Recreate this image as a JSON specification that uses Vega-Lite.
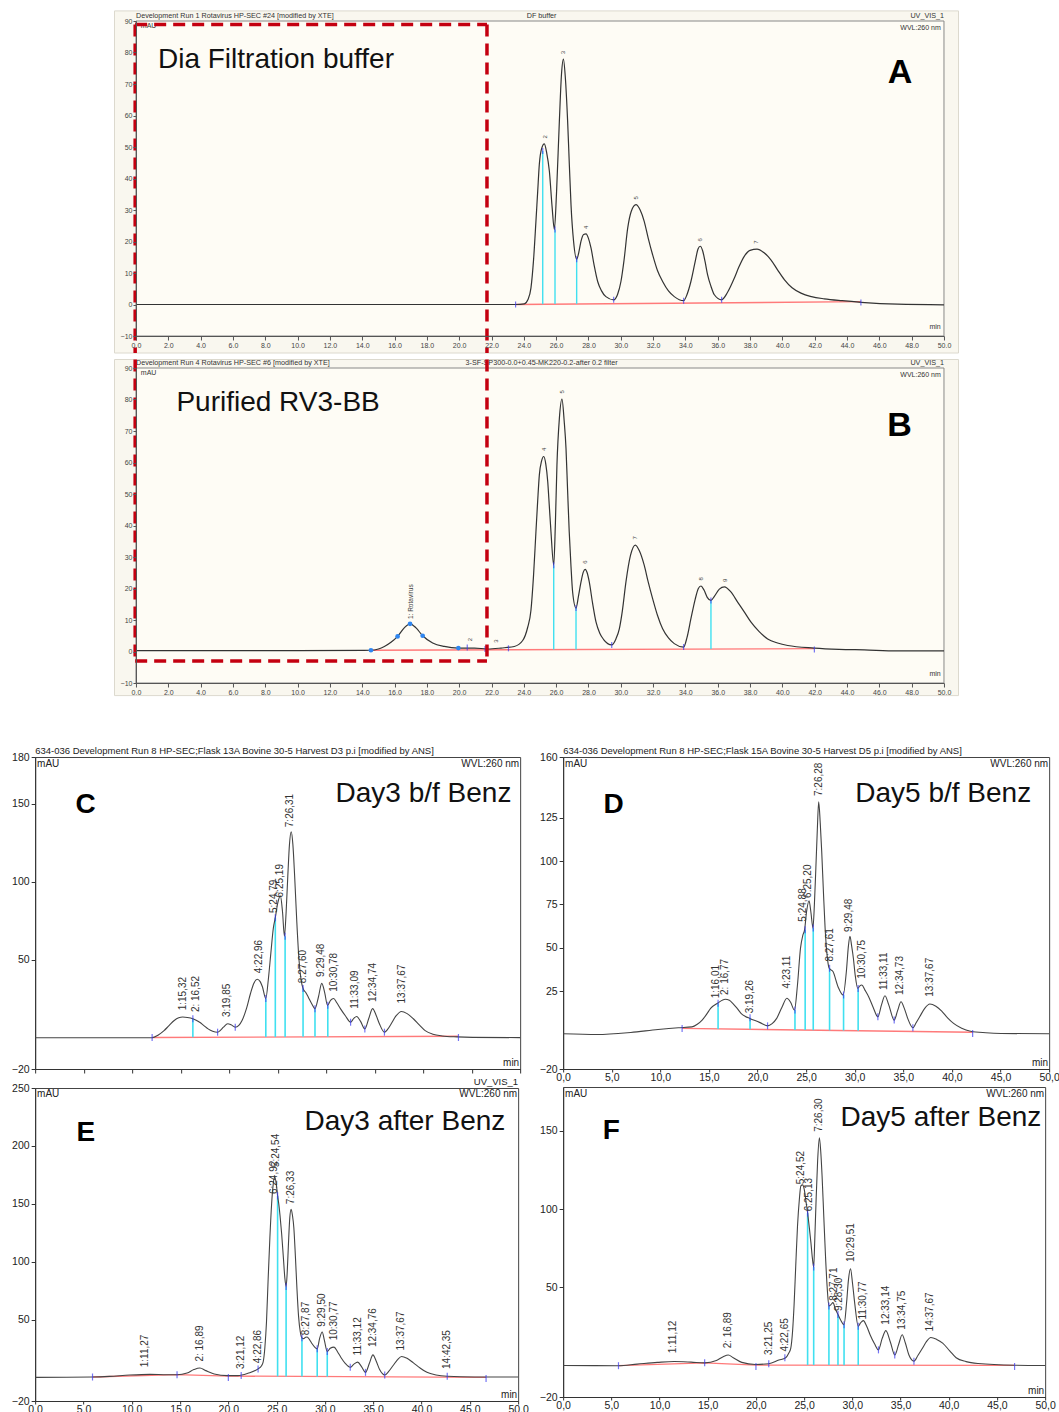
{
"$schema": "https://vega.github.io/schema/vega-lite/v6.json",
"background": "white",
"padding": {"left": 10, "top": 10, "right": 0, "bottom": 0},
"config": {"font": "Liberation Sans", "view": {"stroke": "#444"}, "axis": {"grid": false, "labelFont": "Liberation Sans"}},
"datasets": {
"trA": [{"t":0,"v":0},{"t":5,"v":0},{"t":10,"v":0},{"t":15,"v":0},{"t":20,"v":0},{"t":23.5,"v":0},{"t":24.03,"v":0.2},{"t":24.25,"v":1.5},{"t":24.44,"v":5.2},{"t":24.6,"v":14},{"t":24.75,"v":26.4},{"t":24.86,"v":36},{"t":24.96,"v":44.5},{"t":25.1,"v":49.5},{"t":25.27,"v":51},{"t":25.42,"v":48},{"t":25.58,"v":42.4},{"t":25.75,"v":31},{"t":25.89,"v":23.8},{"t":26.02,"v":35},{"t":26.2,"v":58.3},{"t":26.33,"v":73},{"t":26.45,"v":77.9},{"t":26.57,"v":72},{"t":26.71,"v":58.3},{"t":26.82,"v":44},{"t":26.92,"v":31.7},{"t":27.08,"v":20},{"t":27.27,"v":14.4},{"t":27.4,"v":16.5},{"t":27.54,"v":20.1},{"t":27.7,"v":22.2},{"t":27.85,"v":22.4},{"t":28.0,"v":21},{"t":28.16,"v":17.9},{"t":28.35,"v":12.5},{"t":28.57,"v":7.3},{"t":28.8,"v":4.4},{"t":29.08,"v":2.5},{"t":29.56,"v":1.5},{"t":29.8,"v":3.2},{"t":30.01,"v":7.3},{"t":30.2,"v":14},{"t":30.43,"v":24.3},{"t":30.65,"v":29.6},{"t":30.94,"v":31.7},{"t":31.2,"v":30},{"t":31.45,"v":26.4},{"t":31.7,"v":21},{"t":31.97,"v":15.8},{"t":32.27,"v":10.8},{"t":32.59,"v":7.3},{"t":32.95,"v":4.3},{"t":33.31,"v":2.5},{"t":33.89,"v":1.2},{"t":34.1,"v":3.2},{"t":34.34,"v":7.3},{"t":34.6,"v":13.5},{"t":34.78,"v":17.6},{"t":34.92,"v":18.5},{"t":35.07,"v":17},{"t":35.22,"v":13.5},{"t":35.37,"v":9.5},{"t":35.58,"v":5.8},{"t":35.79,"v":3.1},{"t":36.24,"v":1.5},{"t":36.6,"v":3.8},{"t":37.03,"v":8.4},{"t":37.3,"v":11.8},{"t":37.64,"v":15.3},{"t":38.0,"v":17.2},{"t":38.43,"v":17.6},{"t":38.85,"v":16.5},{"t":39.29,"v":14.2},{"t":39.7,"v":11},{"t":40.12,"v":7.9},{"t":40.6,"v":5.3},{"t":41.15,"v":3.6},{"t":41.8,"v":2.5},{"t":42.59,"v":1.8},{"t":43.7,"v":1.2},{"t":44.87,"v":0.7},{"t":47.13,"v":0.1},{"t":50,"v":-0.1}],
"trB": [{"t":0,"v":0.3},{"t":5,"v":0.3},{"t":10,"v":0.3},{"t":14.54,"v":0.4},{"t":15.0,"v":0.8},{"t":15.37,"v":1.6},{"t":15.8,"v":3.0},{"t":16.19,"v":4.8},{"t":16.6,"v":7.5},{"t":16.96,"v":8.8},{"t":17.33,"v":7.5},{"t":17.74,"v":5.0},{"t":18.36,"v":2.7},{"t":19.08,"v":1.6},{"t":19.95,"v":1.1},{"t":20.94,"v":1.1},{"t":21.76,"v":0.8},{"t":22.59,"v":1.1},{"t":23.41,"v":1.6},{"t":23.93,"v":3.5},{"t":24.24,"v":7.7},{"t":24.44,"v":13},{"t":24.6,"v":24},{"t":24.75,"v":38},{"t":24.86,"v":48},{"t":24.96,"v":56},{"t":25.1,"v":60.5},{"t":25.23,"v":61.9},{"t":25.36,"v":59.5},{"t":25.48,"v":53.9},{"t":25.58,"v":46},{"t":25.68,"v":38},{"t":25.85,"v":27.4},{"t":25.95,"v":40},{"t":26.05,"v":59.2},{"t":26.2,"v":74},{"t":26.36,"v":80.1},{"t":26.5,"v":73},{"t":26.61,"v":64.5},{"t":26.71,"v":51},{"t":26.81,"v":38},{"t":26.92,"v":27},{"t":27.02,"v":18.9},{"t":27.23,"v":13.8},{"t":27.38,"v":17.5},{"t":27.54,"v":22.1},{"t":27.68,"v":25.2},{"t":27.8,"v":26.1},{"t":27.92,"v":25},{"t":28.05,"v":22.1},{"t":28.25,"v":15.5},{"t":28.47,"v":9.3},{"t":28.7,"v":5.8},{"t":28.94,"v":3.8},{"t":29.44,"v":2.1},{"t":29.7,"v":4},{"t":29.91,"v":7.2},{"t":30.1,"v":13},{"t":30.32,"v":22.1},{"t":30.6,"v":30.5},{"t":30.9,"v":33.8},{"t":31.15,"v":32},{"t":31.45,"v":27.4},{"t":31.7,"v":22},{"t":31.97,"v":16.8},{"t":32.27,"v":11.5},{"t":32.59,"v":7.2},{"t":32.95,"v":4.3},{"t":33.31,"v":2.5},{"t":33.89,"v":1.4},{"t":34.1,"v":4.5},{"t":34.34,"v":10.4},{"t":34.6,"v":16.5},{"t":34.8,"v":20},{"t":34.96,"v":20.8},{"t":35.15,"v":19.5},{"t":35.35,"v":17.2},{"t":35.58,"v":16.2},{"t":35.8,"v":17.6},{"t":36.1,"v":19.8},{"t":36.41,"v":20.5},{"t":36.8,"v":19},{"t":37.23,"v":15.7},{"t":37.65,"v":12.5},{"t":38.06,"v":9.3},{"t":38.55,"v":6.4},{"t":39.09,"v":4.0},{"t":39.7,"v":2.7},{"t":40.33,"v":1.9},{"t":41.98,"v":1.1},{"t":43.5,"v":0.7},{"t":45.07,"v":0.5},{"t":47.13,"v":0.2},{"t":50,"v":0.2}],
"trC": [{"t":0,"v":0},{"t":5,"v":0},{"t":10,"v":0},{"t":12.06,"v":0},{"t":12.7,"v":1.8},{"t":13.29,"v":4.6},{"t":13.8,"v":7.8},{"t":14.34,"v":11.1},{"t":14.8,"v":12.8},{"t":15.21,"v":13.3},{"t":15.7,"v":13.0},{"t":16.26,"v":12.2},{"t":16.6,"v":11.3},{"t":16.96,"v":10.0},{"t":17.4,"v":7.8},{"t":17.83,"v":5.7},{"t":18.3,"v":4.2},{"t":18.81,"v":3.6},{"t":19.1,"v":4.8},{"t":19.41,"v":6.8},{"t":19.86,"v":9.0},{"t":20.2,"v":8.3},{"t":20.63,"v":6.8},{"t":21.0,"v":8.0},{"t":21.33,"v":11.1},{"t":21.8,"v":19},{"t":22.2,"v":28.4},{"t":22.55,"v":35},{"t":22.9,"v":37.5},{"t":23.2,"v":36},{"t":23.43,"v":32.7},{"t":23.78,"v":25.2},{"t":24.05,"v":38},{"t":24.3,"v":54.3},{"t":24.55,"v":70},{"t":24.76,"v":77},{"t":25.0,"v":86},{"t":25.28,"v":91},{"t":25.5,"v":81},{"t":25.7,"v":65.1},{"t":25.87,"v":80},{"t":26.05,"v":104},{"t":26.22,"v":124},{"t":26.4,"v":132.1},{"t":26.57,"v":124},{"t":26.75,"v":104},{"t":26.97,"v":75},{"t":27.2,"v":50},{"t":27.42,"v":37},{"t":27.62,"v":31.6},{"t":27.9,"v":29},{"t":28.15,"v":26.2},{"t":28.5,"v":22},{"t":28.85,"v":18.7},{"t":29.2,"v":26},{"t":29.55,"v":34.9},{"t":29.85,"v":29},{"t":30.14,"v":20.8},{"t":30.45,"v":24},{"t":30.77,"v":25.2},{"t":31.1,"v":22.5},{"t":31.47,"v":18.7},{"t":32.0,"v":14},{"t":32.52,"v":10.0},{"t":32.85,"v":12.5},{"t":33.15,"v":13.7},{"t":33.55,"v":10.5},{"t":33.99,"v":5.7},{"t":34.4,"v":12.5},{"t":34.79,"v":18.7},{"t":35.15,"v":14.5},{"t":35.49,"v":9.0},{"t":36.01,"v":3.6},{"t":36.35,"v":5.5},{"t":36.71,"v":9.0},{"t":37.2,"v":14},{"t":37.76,"v":16.9},{"t":38.35,"v":15.5},{"t":38.99,"v":12.2},{"t":39.6,"v":8.3},{"t":40.21,"v":4.6},{"t":41.0,"v":2.3},{"t":41.96,"v":1.2},{"t":43.5,"v":0.6},{"t":45.1,"v":0.3},{"t":50,"v":0.1}],
"trD": [{"t":0,"v":0.3},{"t":3.5,"v":-0.1},{"t":6.96,"v":1.1},{"t":9.76,"v":2.8},{"t":11.85,"v":3.8},{"t":13.25,"v":4.3},{"t":13.8,"v":5.8},{"t":14.3,"v":8.2},{"t":14.75,"v":11.5},{"t":15.17,"v":15.0},{"t":15.87,"v":17.9},{"t":16.68,"v":20.2},{"t":17.1,"v":19.6},{"t":17.45,"v":17.9},{"t":17.9,"v":15},{"t":18.3,"v":12.1},{"t":18.75,"v":10.3},{"t":19.2,"v":9.2},{"t":20.2,"v":6.9},{"t":21.03,"v":4.9},{"t":21.5,"v":6.2},{"t":21.97,"v":9.2},{"t":22.5,"v":15.5},{"t":23.02,"v":20.8},{"t":23.4,"v":18.5},{"t":23.8,"v":14.0},{"t":24.1,"v":28},{"t":24.42,"v":49.7},{"t":24.65,"v":57},{"t":24.84,"v":60.3},{"t":25.05,"v":71},{"t":25.3,"v":77.1},{"t":25.5,"v":70},{"t":25.7,"v":61.3},{"t":25.85,"v":75},{"t":26.0,"v":96},{"t":26.15,"v":118},{"t":26.29,"v":134.1},{"t":26.45,"v":122},{"t":26.6,"v":105.7},{"t":26.78,"v":82},{"t":26.95,"v":61.3},{"t":27.15,"v":46},{"t":27.37,"v":38.1},{"t":27.76,"v":36.2},{"t":28.28,"v":27.5},{"t":28.81,"v":22.7},{"t":29.15,"v":37},{"t":29.35,"v":51},{"t":29.51,"v":56.5},{"t":29.68,"v":51},{"t":29.86,"v":43.9},{"t":30.05,"v":34},{"t":30.31,"v":26.5},{"t":30.5,"v":27.8},{"t":30.73,"v":28.5},{"t":31.05,"v":25.5},{"t":31.43,"v":21.7},{"t":31.9,"v":15.5},{"t":32.38,"v":10.1},{"t":32.75,"v":17},{"t":33.11,"v":22.3},{"t":33.5,"v":17},{"t":34.06,"v":8.2},{"t":34.4,"v":13.5},{"t":34.76,"v":18.8},{"t":35.1,"v":15},{"t":35.45,"v":9.2},{"t":35.98,"v":3.8},{"t":36.3,"v":6.5},{"t":36.68,"v":10.1},{"t":37.2,"v":15},{"t":37.73,"v":17.5},{"t":38.35,"v":16.2},{"t":38.95,"v":13.4},{"t":39.55,"v":9.5},{"t":40.17,"v":6.3},{"t":41.0,"v":3.5},{"t":41.92,"v":1.8},{"t":43.5,"v":0.9},{"t":45.07,"v":0.5},{"t":50,"v":0.3}],
"trE": [{"t":0,"v":0.4},{"t":5.94,"v":0.7},{"t":7.69,"v":1.2},{"t":9.79,"v":2.4},{"t":11.89,"v":3.0},{"t":13.64,"v":2.7},{"t":14.69,"v":2.7},{"t":15.73,"v":4.1},{"t":16.43,"v":7.1},{"t":17.06,"v":8.5},{"t":17.66,"v":6.2},{"t":18.53,"v":3.3},{"t":19.93,"v":1.9},{"t":20.98,"v":1.9},{"t":22.03,"v":3.9},{"t":23.08,"v":7.7},{"t":23.4,"v":10},{"t":23.6,"v":13.5},{"t":23.78,"v":26},{"t":23.95,"v":48.3},{"t":24.12,"v":85},{"t":24.3,"v":120.9},{"t":24.48,"v":150},{"t":24.65,"v":167.3},{"t":24.8,"v":173.5},{"t":24.95,"v":168},{"t":25.1,"v":157},{"t":25.22,"v":150},{"t":25.35,"v":140},{"t":25.52,"v":124},{"t":25.7,"v":103.4},{"t":25.85,"v":86},{"t":25.98,"v":78.7},{"t":26.1,"v":92},{"t":26.22,"v":115},{"t":26.36,"v":138},{"t":26.5,"v":145.4},{"t":26.64,"v":140},{"t":26.78,"v":129.5},{"t":26.94,"v":105},{"t":27.1,"v":77.3},{"t":27.27,"v":53},{"t":27.45,"v":39.5},{"t":27.62,"v":34.5},{"t":27.8,"v":33.8},{"t":28.0,"v":35},{"t":28.15,"v":35.2},{"t":28.4,"v":33},{"t":28.67,"v":29.4},{"t":29.2,"v":25.0},{"t":29.45,"v":34},{"t":29.72,"v":39.5},{"t":29.95,"v":32},{"t":30.24,"v":22.7},{"t":30.55,"v":25.5},{"t":30.94,"v":26.5},{"t":31.3,"v":22.5},{"t":31.64,"v":17.8},{"t":32.1,"v":12.5},{"t":32.62,"v":9.1},{"t":33.0,"v":11.8},{"t":33.39,"v":13.5},{"t":33.8,"v":9.5},{"t":34.2,"v":4.7},{"t":34.6,"v":12.5},{"t":34.97,"v":19.8},{"t":35.3,"v":14.5},{"t":35.66,"v":7.1},{"t":36.19,"v":2.4},{"t":36.6,"v":5.5},{"t":37.06,"v":10.6},{"t":37.5,"v":15.5},{"t":37.94,"v":18.4},{"t":38.5,"v":16.8},{"t":39.16,"v":12.9},{"t":39.85,"v":8.5},{"t":40.56,"v":4.7},{"t":41.5,"v":2.4},{"t":42.66,"v":1.3},{"t":45.45,"v":0.7},{"t":50,"v":0.7}],
"trF": [{"t":0,"v":0.1},{"t":5.74,"v":0},{"t":7.67,"v":1.0},{"t":9.77,"v":2.1},{"t":11.52,"v":2.7},{"t":13.27,"v":2.3},{"t":14.68,"v":1.8},{"t":15.9,"v":3.3},{"t":16.6,"v":5.7},{"t":17.13,"v":6.8},{"t":17.65,"v":5.1},{"t":18.53,"v":2.1},{"t":19.93,"v":0.8},{"t":21.33,"v":1.2},{"t":22.38,"v":3.6},{"t":23.08,"v":5.1},{"t":23.4,"v":8},{"t":23.61,"v":11.1},{"t":23.8,"v":22},{"t":23.96,"v":39.2},{"t":24.13,"v":64},{"t":24.31,"v":88.9},{"t":24.5,"v":106},{"t":24.66,"v":114.8},{"t":24.84,"v":115.5},{"t":25.01,"v":112.6},{"t":25.19,"v":105},{"t":25.36,"v":97.5},{"t":25.54,"v":88},{"t":25.71,"v":78.1},{"t":25.85,"v":69},{"t":25.99,"v":63.0},{"t":26.1,"v":80},{"t":26.23,"v":104},{"t":26.4,"v":131},{"t":26.58,"v":145.5},{"t":26.72,"v":137},{"t":26.86,"v":121.3},{"t":27.04,"v":95},{"t":27.22,"v":69.4},{"t":27.4,"v":49},{"t":27.57,"v":38.1},{"t":27.78,"v":39},{"t":27.99,"v":40.3},{"t":28.25,"v":36},{"t":28.51,"v":32.7},{"t":28.8,"v":29},{"t":29.14,"v":26.2},{"t":29.4,"v":40},{"t":29.6,"v":55},{"t":29.81,"v":61.9},{"t":30.03,"v":52},{"t":30.26,"v":39.2},{"t":30.61,"v":25.2},{"t":30.85,"v":27.3},{"t":31.14,"v":28.8},{"t":31.5,"v":25},{"t":31.84,"v":19.8},{"t":32.3,"v":14},{"t":32.71,"v":10.1},{"t":33.1,"v":17.5},{"t":33.48,"v":22.4},{"t":33.95,"v":15},{"t":34.4,"v":6.8},{"t":34.8,"v":13.5},{"t":35.17,"v":19.8},{"t":35.5,"v":14.5},{"t":35.87,"v":6.8},{"t":36.39,"v":2.9},{"t":36.8,"v":6.5},{"t":37.27,"v":11.1},{"t":37.7,"v":15.5},{"t":38.14,"v":18.0},{"t":38.75,"v":16.8},{"t":39.37,"v":14.4},{"t":40.1,"v":9.5},{"t":40.77,"v":5.1},{"t":41.8,"v":2.6},{"t":43.05,"v":1.4},{"t":46.9,"v":0.3},{"t":50,"v":0.1}],
"lbA": [{"t":25.34,"v":53.2,"s":"2"},{"t":26.45,"v":80,"s":"3"},{"t":27.87,"v":24.5,"s":"4"},{"t":30.97,"v":33.9,"s":"5"},{"t":34.93,"v":20.5,"s":"6"},{"t":38.38,"v":19.8,"s":"7"}],
"lbB": [{"t":20.7,"v":3.8,"s":"2"},{"t":22.3,"v":3.3,"s":"3"},{"t":25.27,"v":64.2,"s":"4"},{"t":26.36,"v":82.4,"s":"5"},{"t":27.8,"v":28.4,"s":"6"},{"t":30.88,"v":36.1,"s":"7"},{"t":34.96,"v":23.1,"s":"8"},{"t":36.45,"v":22.6,"s":"9"}],
"lbC": [{"t":15.28,"v":17.6,"s":"1:15,32"},{"t":16.6,"v":16.5,"s":"2: 16,52"},{"t":19.8,"v":13.3,"s":"3:19,85"},{"t":23.1,"v":41.4,"s":"4:22,96"},{"t":24.6,"v":80,"s":"5:24,79"},{"t":25.2,"v":90,"s":"6:25,19"},{"t":26.3,"v":135,"s":"7:26,31"},{"t":27.6,"v":35,"s":"8:27,60"},{"t":29.5,"v":39,"s":"9:29,48"},{"t":30.8,"v":29.5,"s":"10:30,78"},{"t":33.0,"v":18.7,"s":"11:33,09"},{"t":34.8,"v":23,"s":"12:34,74"},{"t":37.8,"v":22,"s":"13:37,67"}],
"lbD": [{"t":15.7,"v":20.8,"s":"1:16,01"},{"t":16.7,"v":22.7,"s":"2: 16,77"},{"t":19.2,"v":12.1,"s":"3:19,26"},{"t":23.0,"v":26.5,"s":"4:23,11"},{"t":24.7,"v":65,"s":"5:24,88"},{"t":25.2,"v":78.7,"s":"6:25,20"},{"t":26.3,"v":137.5,"s":"7:26,28"},{"t":27.5,"v":42,"s":"8:27,61"},{"t":29.4,"v":59,"s":"9:29,48"},{"t":30.7,"v":32,"s":"10:30,75"},{"t":33.0,"v":25.6,"s":"11:33,11"},{"t":34.7,"v":22.7,"s":"12:34,73"},{"t":37.7,"v":21.7,"s":"13:37,67"}],
"lbE": [{"t":11.4,"v":9.1,"s":"1:11,27"},{"t":17.1,"v":14,"s":"2: 16,89"},{"t":21.3,"v":7.6,"s":"3:21,12"},{"t":23.1,"v":12.6,"s":"4:22,86"},{"t":24.95,"v":181.7,"s":"5:24,54"},{"t":24.7,"v":158.5,"s":"6:24,92"},{"t":26.5,"v":149.8,"s":"7:26,33"},{"t":28.0,"v":36.8,"s":"8:27,87"},{"t":29.7,"v":44,"s":"9:29,50"},{"t":30.9,"v":32.3,"s":"10:30,77"},{"t":33.4,"v":19.3,"s":"11:33,12"},{"t":35.0,"v":26.5,"s":"12:34,76"},{"t":37.9,"v":23.6,"s":"13:37,67"},{"t":42.6,"v":7.6,"s":"14:42,35"}],
"lbF": [{"t":11.35,"v":7.9,"s":"1:11,12"},{"t":17.1,"v":11.1,"s":"2: 16,89"},{"t":21.4,"v":6.8,"s":"3:21,25"},{"t":23.0,"v":9,"s":"4:22,65"},{"t":24.66,"v":115.9,"s":"5:24,52"},{"t":25.46,"v":98.6,"s":"6:25,13"},{"t":26.58,"v":149.4,"s":"7:26,30"},{"t":28.09,"v":41.4,"s":"8:27,71"},{"t":28.6,"v":34.9,"s":"9:28,30"},{"t":29.9,"v":66.2,"s":"10:29,51"},{"t":31.14,"v":29.5,"s":"11:30,77"},{"t":33.5,"v":26.2,"s":"12:33,14"},{"t":35.2,"v":23,"s":"13:34,75"},{"t":38.1,"v":21.9,"s":"14:37,67"}],
"drA": [{"t":25.17,"v":48.7,"v2":0.1},{"t":25.93,"v":23.8,"v2":0.15},{"t":27.27,"v":14.4,"v2":0.2}],
"drB": [{"t":25.85,"v":27.4,"v2":0.6},{"t":27.23,"v":13.8,"v2":0.6},{"t":35.58,"v":16.2,"v2":0.8}],
"drC": [{"t":16.26,"v":12.2,"v2":0.3},{"t":23.78,"v":25.2,"v2":0.5},{"t":24.76,"v":77,"v2":0.5},{"t":25.77,"v":65.1,"v2":0.55},{"t":27.62,"v":31.6,"v2":0.6},{"t":28.85,"v":18.7,"v2":0.6},{"t":30.17,"v":20.8,"v2":0.65}],
"drD": [{"t":15.94,"v":17.9,"v2":3.1},{"t":19.23,"v":9.6,"v2":2.9},{"t":23.85,"v":14.0,"v2":2.5},{"t":24.9,"v":60.3,"v2":2.5},{"t":25.73,"v":61.3,"v2":2.4},{"t":27.41,"v":38.1,"v2":2.3},{"t":28.85,"v":22.7,"v2":2.2},{"t":30.35,"v":26.5,"v2":2.1}],
"drE": [{"t":25.1,"v":157,"v2":1.2},{"t":25.98,"v":78.7,"v2":1.2},{"t":27.62,"v":34.5,"v2":1.1},{"t":29.2,"v":25,"v2":1.0},{"t":30.24,"v":22.7,"v2":1.0}],
"drF": [{"t":25.36,"v":97.5,"v2":0.4},{"t":25.99,"v":63,"v2":0.4},{"t":27.57,"v":38.1,"v2":0.4},{"t":28.51,"v":32.7,"v2":0.35},{"t":29.14,"v":26.2,"v2":0.35},{"t":30.61,"v":25.2,"v2":0.3}],
"mkA": [{"t":23.49,"v":0},{"t":29.56,"v":1.5},{"t":33.89,"v":1.2},{"t":36.24,"v":1.5},{"t":44.86,"v":0.6},{"t":25.17,"v":48.7},{"t":25.93,"v":23.8},{"t":27.27,"v":14.4}],
"mkB": [{"t":20.5,"v":1.3},{"t":21.6,"v":0.8},{"t":23.05,"v":1.0},{"t":29.44,"v":2.1},{"t":33.89,"v":1.4},{"t":41.98,"v":0.6},{"t":25.85,"v":27.4},{"t":27.23,"v":13.8},{"t":35.58,"v":16.2}],
"dotB": [{"t":14.54,"v":0.4},{"t":16.19,"v":4.8},{"t":16.96,"v":8.8},{"t":17.74,"v":5.0},{"t":19.95,"v":1.1}],
"mkC": [{"t":12.06,"v":0.2},{"t":18.81,"v":3.6},{"t":20.63,"v":6.8},{"t":32.52,"v":10.0},{"t":33.99,"v":5.7},{"t":36.01,"v":3.6},{"t":43.64,"v":0.2},{"t":16.26,"v":12.2},{"t":23.78,"v":25.2},{"t":24.76,"v":77},{"t":25.77,"v":65.1},{"t":27.62,"v":31.6},{"t":28.85,"v":18.7},{"t":30.17,"v":20.8}],
"mkD": [{"t":12.24,"v":3.4},{"t":21.03,"v":4.9},{"t":32.38,"v":10.1},{"t":34.06,"v":8.2},{"t":35.98,"v":3.8},{"t":42.13,"v":0.5},{"t":15.94,"v":17.9},{"t":19.23,"v":9.6},{"t":23.85,"v":14.0},{"t":24.9,"v":60.3},{"t":25.73,"v":61.3},{"t":27.41,"v":38.1},{"t":28.85,"v":22.7},{"t":30.35,"v":26.5}],
"mkE": [{"t":5.94,"v":0.7},{"t":14.69,"v":2.7},{"t":20.0,"v":0.3},{"t":21.33,"v":1.9},{"t":23.08,"v":7.7},{"t":32.62,"v":9.1},{"t":34.2,"v":4.7},{"t":36.19,"v":2.4},{"t":42.66,"v":1.3},{"t":46.68,"v":-0.5},{"t":25.1,"v":157},{"t":25.98,"v":78.7},{"t":27.62,"v":34.5},{"t":29.2,"v":25},{"t":30.24,"v":22.7}],
"mkF": [{"t":5.74,"v":0},{"t":14.68,"v":1.8},{"t":20.0,"v":-0.5},{"t":21.33,"v":1.2},{"t":23.0,"v":5.1},{"t":32.71,"v":10.1},{"t":34.4,"v":6.8},{"t":36.39,"v":2.9},{"t":46.83,"v":-0.5},{"t":25.36,"v":97.5},{"t":25.99,"v":63},{"t":27.57,"v":38.1},{"t":28.51,"v":32.7},{"t":29.14,"v":26.2},{"t":30.61,"v":25.2}],
"blA": [{"t":23.49,"v":0},{"t":44.86,"v":0.9}],
"blB": [{"t":14.54,"v":0.4},{"t":41.98,"v":0.9}],
"blC": [{"t":12.06,"v":0.2},{"t":43.64,"v":1.0}],
"blD": [{"t":12.24,"v":3.4},{"t":42.13,"v":1.2}],
"blE": [{"t":5.94,"v":0.7},{"t":14.69,"v":2.7},{"t":20.0,"v":1.5},{"t":46.68,"v":0.3}],
"blF": [{"t":5.74,"v":0},{"t":14.68,"v":1.8},{"t":20.0,"v":0.4},{"t":46.83,"v":0.2}]
},
"vconcat": [
{
"vconcat": [
{
"width": 808, "height": 315, "view": {"stroke": null},
"encoding": {
"x": {"field": "t", "type": "quantitative", "scale": {"domain": [0, 50], "nice": false, "zero": false}, "axis": {"title": null, "values": [0,2,4,6,8,10,12,14,16,18,20,22,24,26,28,30,32,34,36,38,40,42,44,46,48,50], "format": ".1f", "labelFontSize": 7, "labelColor": "#444", "tickSize": 4, "tickColor": "#555", "domainColor": "#555", "labelPadding": 1, "labelFlush": false, "labelOverlap": false, "zindex": 1}},
"y": {"field": "v", "type": "quantitative", "scale": {"domain": [-10, 90], "nice": false, "zero": false}, "axis": {"title": null, "values": [-10,0,10,20,30,40,50,60,70,80,90], "labelFontSize": 7, "labelColor": "#444", "tickSize": 3, "tickColor": "#555", "domainColor": "#555", "labelPadding": 1, "labelOverlap": false, "zindex": 1}}
},
"layer": [
{"data": {"values": [{"t": -1.33, "t2": 50.9, "v": 93.2, "v2": -15.4}]}, "mark": {"type": "rect", "fill": "#f9f7ef", "stroke": "#dcd9ce", "strokeWidth": 1}, "encoding": {"x2": {"field": "t2"}, "y2": {"field": "v2"}}},
{"data": {"values": [{"t": 0, "t2": 50, "v": -10, "v2": 90}]}, "mark": {"type": "rect", "fill": "#fefcf5", "stroke": "#888", "strokeWidth": 1}, "encoding": {"x2": {"field": "t2"}, "y2": {"field": "v2"}}},
{"data": {"name": "blA"}, "mark": {"type": "line", "color": "#ff7a7a", "strokeWidth": 1.4}},
{"data": {"name": "drA"}, "mark": {"type": "rule", "color": "#40e0f0", "strokeWidth": 1.4}, "encoding": {"y2": {"field": "v2"}}},
{"data": {"name": "trA"}, "mark": {"type": "line", "interpolate": "monotone", "color": "#333", "strokeWidth": 1.2}},
{"data": {"name": "mkA"}, "mark": {"type": "tick", "orient": "vertical", "size": 6, "thickness": 1.2, "color": "#3a3af0"}},
{"data": {"name": "lbA"}, "mark": {"type": "text", "angle": 270, "fontSize": 6, "color": "#444", "align": "center", "baseline": "middle"}, "encoding": {"text": {"field": "s"}}},
{"data": {"values": [{"t": 0, "v": 90, "s": "Development Run 1 Rotavirus HP-SEC #24 [modified by XTE]"}]}, "mark": {"type": "text", "fontSize": 7.2, "color": "#333", "align": "left", "baseline": "bottom", "dy": -1}, "encoding": {"text": {"field": "s"}}},
{"data": {"values": [{"t": 25.1, "v": 90, "s": "DF buffer"}]}, "mark": {"type": "text", "fontSize": 7.2, "color": "#333", "align": "center", "baseline": "bottom", "dy": -1}, "encoding": {"text": {"field": "s"}}},
{"data": {"values": [{"t": 50, "v": 90, "s": "UV_VIS_1"}]}, "mark": {"type": "text", "fontSize": 7.2, "color": "#333", "align": "right", "baseline": "bottom", "dy": -1}, "encoding": {"text": {"field": "s"}}},
{"data": {"values": [{"t": 0.3, "v": 89.6, "s": "mAU"}]}, "mark": {"type": "text", "fontSize": 7, "color": "#333", "align": "left", "baseline": "top"}, "encoding": {"text": {"field": "s"}}},
{"data": {"values": [{"t": 49.8, "v": 89.2, "s": "WVL:260 nm"}]}, "mark": {"type": "text", "fontSize": 7, "color": "#333", "align": "right", "baseline": "top"}, "encoding": {"text": {"field": "s"}}},
{"data": {"values": [{"t": 49.8, "v": -7.2, "s": "min"}]}, "mark": {"type": "text", "fontSize": 7, "color": "#333", "align": "right", "baseline": "middle"}, "encoding": {"text": {"field": "s"}}},
{"data": {"values": [{"t": 1.36, "v": 75.2, "s": "Dia Filtration buffer"}]}, "mark": {"type": "text", "fontSize": 28, "color": "#111", "align": "left", "baseline": "alphabetic"}, "encoding": {"text": {"field": "s"}}},
{"data": {"values": [{"t": 47.28, "v": 70.2, "s": "A"}]}, "mark": {"type": "text", "fontSize": 34, "fontWeight": "bold", "color": "#000", "align": "center", "baseline": "alphabetic"}, "encoding": {"text": {"field": "s"}}},
{"data": {"values": [{"t": -0.05, "t2": 21.72, "v": 88.9, "v2": 88.9}, {"t": -0.05, "t2": -0.05, "v": 88.9, "v2": -15.4}, {"t": 21.72, "t2": 21.72, "v": 88.9, "v2": -15.4}]}, "mark": {"type": "rule", "color": "#c40010", "strokeWidth": 3.5, "strokeDash": [12, 7]}, "encoding": {"x2": {"field": "t2"}, "y2": {"field": "v2"}}}
]
},
{
"width": 808, "height": 315, "view": {"stroke": null},
"encoding": {
"x": {"field": "t", "type": "quantitative", "scale": {"domain": [0, 50], "nice": false, "zero": false}, "axis": {"title": null, "values": [0,2,4,6,8,10,12,14,16,18,20,22,24,26,28,30,32,34,36,38,40,42,44,46,48,50], "format": ".1f", "labelFontSize": 7, "labelColor": "#444", "tickSize": 4, "tickColor": "#555", "domainColor": "#555", "labelPadding": 1, "labelFlush": false, "labelOverlap": false, "zindex": 1}},
"y": {"field": "v", "type": "quantitative", "scale": {"domain": [-10, 90], "nice": false, "zero": false}, "axis": {"title": null, "values": [-10,0,10,20,30,40,50,60,70,80,90], "labelFontSize": 7, "labelColor": "#444", "tickSize": 3, "tickColor": "#555", "domainColor": "#555", "labelPadding": 1, "labelOverlap": false, "zindex": 1}}
},
"layer": [
{"data": {"values": [{"t": -1.33, "t2": 50.9, "v": 92.7, "v2": -14.0}]}, "mark": {"type": "rect", "fill": "#f9f7ef", "stroke": "#dcd9ce", "strokeWidth": 1}, "encoding": {"x2": {"field": "t2"}, "y2": {"field": "v2"}}},
{"data": {"values": [{"t": 0, "t2": 50, "v": -10, "v2": 90}]}, "mark": {"type": "rect", "fill": "#fefcf5", "stroke": "#888", "strokeWidth": 1}, "encoding": {"x2": {"field": "t2"}, "y2": {"field": "v2"}}},
{"data": {"name": "blB"}, "mark": {"type": "line", "color": "#ff7a7a", "strokeWidth": 1.4}},
{"data": {"name": "drB"}, "mark": {"type": "rule", "color": "#40e0f0", "strokeWidth": 1.4}, "encoding": {"y2": {"field": "v2"}}},
{"data": {"name": "trB"}, "mark": {"type": "line", "interpolate": "monotone", "color": "#333", "strokeWidth": 1.2}},
{"data": {"name": "mkB"}, "mark": {"type": "tick", "orient": "vertical", "size": 6, "thickness": 1.2, "color": "#3a3af0"}},
{"data": {"name": "dotB"}, "mark": {"type": "point", "filled": true, "size": 22, "color": "#2f86f0", "opacity": 1}},
{"data": {"name": "lbB"}, "mark": {"type": "text", "angle": 270, "fontSize": 6, "color": "#444", "align": "center", "baseline": "middle"}, "encoding": {"text": {"field": "s"}}},
{"data": {"values": [{"t": 17.0, "v": 10.3, "s": "1: Rotavirus"}]}, "mark": {"type": "text", "angle": 270, "fontSize": 6.5, "color": "#444", "align": "left", "baseline": "middle"}, "encoding": {"text": {"field": "s"}}},
{"data": {"values": [{"t": 0, "v": 90, "s": "Development Run 4 Rotavirus HP-SEC #6 [modified by XTE]"}]}, "mark": {"type": "text", "fontSize": 7.2, "color": "#333", "align": "left", "baseline": "bottom", "dy": -1}, "encoding": {"text": {"field": "s"}}},
{"data": {"values": [{"t": 25.1, "v": 90, "s": "3-SF-SP300-0.0+0.45-MK220-0.2-after 0.2 filter"}]}, "mark": {"type": "text", "fontSize": 7.2, "color": "#333", "align": "center", "baseline": "bottom", "dy": -1}, "encoding": {"text": {"field": "s"}}},
{"data": {"values": [{"t": 50, "v": 90, "s": "UV_VIS_1"}]}, "mark": {"type": "text", "fontSize": 7.2, "color": "#333", "align": "right", "baseline": "bottom", "dy": -1}, "encoding": {"text": {"field": "s"}}},
{"data": {"values": [{"t": 0.3, "v": 89.6, "s": "mAU"}]}, "mark": {"type": "text", "fontSize": 7, "color": "#333", "align": "left", "baseline": "top"}, "encoding": {"text": {"field": "s"}}},
{"data": {"values": [{"t": 49.8, "v": 89.2, "s": "WVL:260 nm"}]}, "mark": {"type": "text", "fontSize": 7, "color": "#333", "align": "right", "baseline": "top"}, "encoding": {"text": {"field": "s"}}},
{"data": {"values": [{"t": 49.8, "v": -7.2, "s": "min"}]}, "mark": {"type": "text", "fontSize": 7, "color": "#333", "align": "right", "baseline": "middle"}, "encoding": {"text": {"field": "s"}}},
{"data": {"values": [{"t": 2.5, "v": 76.5, "s": "Purified RV3-BB"}]}, "mark": {"type": "text", "fontSize": 28, "color": "#111", "align": "left", "baseline": "alphabetic"}, "encoding": {"text": {"field": "s"}}},
{"data": {"values": [{"t": 47.25, "v": 68.3, "s": "B"}]}, "mark": {"type": "text", "fontSize": 34, "fontWeight": "bold", "color": "#000", "align": "center", "baseline": "alphabetic"}, "encoding": {"text": {"field": "s"}}},
{"data": {"values": [{"t": -0.05, "t2": -0.05, "v": 92.7, "v2": -3.0}, {"t": 21.72, "t2": 21.72, "v": 92.7, "v2": -3.0}, {"t": -0.05, "t2": 21.72, "v": -3.0, "v2": -3.0}]}, "mark": {"type": "rule", "color": "#c40010", "strokeWidth": 3.5, "strokeDash": [12, 7]}, "encoding": {"x2": {"field": "t2"}, "y2": {"field": "v2"}}}
]
}
],
"spacing": 2
},
{
"hconcat": [
{
"vconcat": [
{
"width": 485, "height": 312,
"encoding": {
"x": {"field": "t", "type": "quantitative", "scale": {"domain": [0, 50], "nice": false, "zero": false}, "axis": {"title": null, "values": [0,5,10,15,20,25,30,35,40,45,50], "labels": false, "tickSize": 4, "tickColor": "#333", "domainColor": "#333"}},
"y": {"field": "v", "type": "quantitative", "scale": {"domain": [-20, 180], "nice": false, "zero": false}, "axis": {"title": null, "values": [-20,50,100,150,180], "labelFontSize": 10.5, "labelColor": "#222", "tickSize": 4, "tickColor": "#333", "domainColor": "#333", "labelPadding": 2, "labelOverlap": false}}
},
"layer": [
{"data": {"name": "blC"}, "mark": {"type": "line", "color": "#ff7a7a", "strokeWidth": 1.3}},
{"data": {"name": "drC"}, "mark": {"type": "rule", "color": "#40e0f0", "strokeWidth": 1.6}, "encoding": {"y2": {"field": "v2"}}},
{"data": {"name": "trC"}, "mark": {"type": "line", "interpolate": "monotone", "color": "#444", "strokeWidth": 1.1}},
{"data": {"name": "mkC"}, "mark": {"type": "tick", "orient": "vertical", "size": 7, "thickness": 1.2, "color": "#3a3af0"}},
{"data": {"name": "lbC"}, "mark": {"type": "text", "angle": 270, "fontSize": 10, "color": "#333", "align": "left", "baseline": "middle"}, "encoding": {"text": {"field": "s"}}},
{"data": {"values": [{"t": 0, "v": 180, "s": "634-036 Development Run 8 HP-SEC;Flask 13A Bovine 30-5 Harvest D3 p.i [modified by ANS]"}]}, "mark": {"type": "text", "fontSize": 9.5, "color": "#222", "align": "left", "baseline": "bottom", "dy": -1}, "encoding": {"text": {"field": "s"}}},
{"data": {"values": [{"t": 0.2, "v": 179, "s": "mAU"}]}, "mark": {"type": "text", "fontSize": 10, "color": "#222", "align": "left", "baseline": "top"}, "encoding": {"text": {"field": "s"}}},
{"data": {"values": [{"t": 49.9, "v": 179, "s": "WVL:260 nm"}]}, "mark": {"type": "text", "fontSize": 10, "color": "#222", "align": "right", "baseline": "top"}, "encoding": {"text": {"field": "s"}}},
{"data": {"values": [{"t": 49.9, "v": -19.5, "s": "min"}]}, "mark": {"type": "text", "fontSize": 10, "color": "#222", "align": "right", "baseline": "bottom"}, "encoding": {"text": {"field": "s"}}},
{"data": {"values": [{"t": 4.16, "v": 144, "s": "C"}]}, "mark": {"type": "text", "fontSize": 28, "fontWeight": "bold", "color": "#000", "align": "left", "baseline": "alphabetic"}, "encoding": {"text": {"field": "s"}}},
{"data": {"values": [{"t": 49.1, "v": 151, "s": "Day3 b/f Benz"}]}, "mark": {"type": "text", "fontSize": 28, "color": "#111", "align": "right", "baseline": "alphabetic"}, "encoding": {"text": {"field": "s"}}}
]
},
{
"width": 483, "height": 313,
"encoding": {
"x": {"field": "t", "type": "quantitative", "scale": {"domain": [0, 50], "nice": false, "zero": false}, "axis": {"title": null, "values": [0,5,10,15,20,25,30,35,40,45,50], "format": ".1f", "labelFontSize": 10.5, "labelColor": "#222", "tickSize": 3, "tickColor": "#333", "domainColor": "#333", "labelPadding": 0, "labelFlush": false, "labelOverlap": false}},
"y": {"field": "v", "type": "quantitative", "scale": {"domain": [-20, 250], "nice": false, "zero": false}, "axis": {"title": null, "values": [-20,50,100,150,200,250], "labelFontSize": 10.5, "labelColor": "#222", "tickSize": 4, "tickColor": "#333", "domainColor": "#333", "labelPadding": 2, "labelOverlap": false}}
},
"layer": [
{"data": {"name": "blE"}, "mark": {"type": "line", "color": "#ff7a7a", "strokeWidth": 1.3}},
{"data": {"name": "drE"}, "mark": {"type": "rule", "color": "#40e0f0", "strokeWidth": 1.6}, "encoding": {"y2": {"field": "v2"}}},
{"data": {"name": "trE"}, "mark": {"type": "line", "interpolate": "monotone", "color": "#444", "strokeWidth": 1.1}},
{"data": {"name": "mkE"}, "mark": {"type": "tick", "orient": "vertical", "size": 7, "thickness": 1.2, "color": "#3a3af0"}},
{"data": {"name": "lbE"}, "mark": {"type": "text", "angle": 270, "fontSize": 10, "color": "#333", "align": "left", "baseline": "middle"}, "encoding": {"text": {"field": "s"}}},
{"data": {"values": [{"t": 50, "v": 250, "s": "UV_VIS_1"}]}, "mark": {"type": "text", "fontSize": 9.5, "color": "#222", "align": "right", "baseline": "bottom", "dy": -1}, "encoding": {"text": {"field": "s"}}},
{"data": {"values": [{"t": 0.2, "v": 249, "s": "mAU"}]}, "mark": {"type": "text", "fontSize": 10, "color": "#222", "align": "left", "baseline": "top"}, "encoding": {"text": {"field": "s"}}},
{"data": {"values": [{"t": 49.9, "v": 249, "s": "WVL:260 nm"}]}, "mark": {"type": "text", "fontSize": 10, "color": "#222", "align": "right", "baseline": "top"}, "encoding": {"text": {"field": "s"}}},
{"data": {"values": [{"t": 49.9, "v": -19.5, "s": "min"}]}, "mark": {"type": "text", "fontSize": 10, "color": "#222", "align": "right", "baseline": "bottom"}, "encoding": {"text": {"field": "s"}}},
{"data": {"values": [{"t": 4.27, "v": 204.4, "s": "E"}]}, "mark": {"type": "text", "fontSize": 28, "fontWeight": "bold", "color": "#000", "align": "left", "baseline": "alphabetic"}, "encoding": {"text": {"field": "s"}}},
{"data": {"values": [{"t": 48.67, "v": 213.7, "s": "Day3 after Benz"}]}, "mark": {"type": "text", "fontSize": 28, "color": "#111", "align": "right", "baseline": "alphabetic"}, "encoding": {"text": {"field": "s"}}}
]
}
],
"spacing": 1
},
{
"vconcat": [
{
"width": 486, "height": 312,
"encoding": {
"x": {"field": "t", "type": "quantitative", "scale": {"domain": [0, 50], "nice": false, "zero": false}, "axis": {"title": null, "values": [0,5,10,15,20,25,30,35,40,45,50], "labelExpr": "replace(format(datum.value, '.1f'), '.', ',')", "labelFontSize": 10.5, "labelColor": "#222", "tickSize": 3, "tickColor": "#333", "domainColor": "#333", "labelPadding": 0, "labelFlush": false, "labelOverlap": false}},
"y": {"field": "v", "type": "quantitative", "scale": {"domain": [-20, 160], "nice": false, "zero": false}, "axis": {"title": null, "values": [-20,25,50,75,100,125,160], "labelFontSize": 10.5, "labelColor": "#222", "tickSize": 4, "tickColor": "#333", "domainColor": "#333", "labelPadding": 2, "labelOverlap": false}}
},
"layer": [
{"data": {"name": "blD"}, "mark": {"type": "line", "color": "#ff7a7a", "strokeWidth": 1.3}},
{"data": {"name": "drD"}, "mark": {"type": "rule", "color": "#40e0f0", "strokeWidth": 1.6}, "encoding": {"y2": {"field": "v2"}}},
{"data": {"name": "trD"}, "mark": {"type": "line", "interpolate": "monotone", "color": "#444", "strokeWidth": 1.1}},
{"data": {"name": "mkD"}, "mark": {"type": "tick", "orient": "vertical", "size": 7, "thickness": 1.2, "color": "#3a3af0"}},
{"data": {"name": "lbD"}, "mark": {"type": "text", "angle": 270, "fontSize": 10, "color": "#333", "align": "left", "baseline": "middle"}, "encoding": {"text": {"field": "s"}}},
{"data": {"values": [{"t": 0, "v": 160, "s": "634-036 Development Run 8 HP-SEC;Flask 15A Bovine 30-5 Harvest D5 p.i [modified by ANS]"}]}, "mark": {"type": "text", "fontSize": 9.5, "color": "#222", "align": "left", "baseline": "bottom", "dy": -1}, "encoding": {"text": {"field": "s"}}},
{"data": {"values": [{"t": 0.2, "v": 159, "s": "mAU"}]}, "mark": {"type": "text", "fontSize": 10, "color": "#222", "align": "left", "baseline": "top"}, "encoding": {"text": {"field": "s"}}},
{"data": {"values": [{"t": 49.9, "v": 159, "s": "WVL:260 nm"}]}, "mark": {"type": "text", "fontSize": 10, "color": "#222", "align": "right", "baseline": "top"}, "encoding": {"text": {"field": "s"}}},
{"data": {"values": [{"t": 49.9, "v": -19.5, "s": "min"}]}, "mark": {"type": "text", "fontSize": 10, "color": "#222", "align": "right", "baseline": "bottom"}, "encoding": {"text": {"field": "s"}}},
{"data": {"values": [{"t": 4.14, "v": 127.9, "s": "D"}]}, "mark": {"type": "text", "fontSize": 28, "fontWeight": "bold", "color": "#000", "align": "left", "baseline": "alphabetic"}, "encoding": {"text": {"field": "s"}}},
{"data": {"values": [{"t": 48.15, "v": 134.1, "s": "Day5 b/f Benz"}]}, "mark": {"type": "text", "fontSize": 28, "color": "#111", "align": "right", "baseline": "alphabetic"}, "encoding": {"text": {"field": "s"}}}
]
},
{
"width": 482, "height": 310,
"encoding": {
"x": {"field": "t", "type": "quantitative", "scale": {"domain": [0, 50], "nice": false, "zero": false}, "axis": {"title": null, "values": [0,5,10,15,20,25,30,35,40,45,50], "labelExpr": "replace(format(datum.value, '.1f'), '.', ',')", "labelFontSize": 10.5, "labelColor": "#222", "tickSize": 3, "tickColor": "#333", "domainColor": "#333", "labelPadding": 0, "labelFlush": false, "labelOverlap": false}},
"y": {"field": "v", "type": "quantitative", "scale": {"domain": [-20, 178], "nice": false, "zero": false}, "axis": {"title": null, "values": [-20,50,100,150], "labelFontSize": 10.5, "labelColor": "#222", "tickSize": 4, "tickColor": "#333", "domainColor": "#333", "labelPadding": 2, "labelOverlap": false}}
},
"layer": [
{"data": {"name": "blF"}, "mark": {"type": "line", "color": "#ff7a7a", "strokeWidth": 1.3}},
{"data": {"name": "drF"}, "mark": {"type": "rule", "color": "#40e0f0", "strokeWidth": 1.6}, "encoding": {"y2": {"field": "v2"}}},
{"data": {"name": "trF"}, "mark": {"type": "line", "interpolate": "monotone", "color": "#444", "strokeWidth": 1.1}},
{"data": {"name": "mkF"}, "mark": {"type": "tick", "orient": "vertical", "size": 7, "thickness": 1.2, "color": "#3a3af0"}},
{"data": {"name": "lbF"}, "mark": {"type": "text", "angle": 270, "fontSize": 10, "color": "#333", "align": "left", "baseline": "middle"}, "encoding": {"text": {"field": "s"}}},
{"data": {"values": [{"t": 0.2, "v": 177, "s": "mAU"}]}, "mark": {"type": "text", "fontSize": 10, "color": "#222", "align": "left", "baseline": "top"}, "encoding": {"text": {"field": "s"}}},
{"data": {"values": [{"t": 49.9, "v": 177, "s": "WVL:260 nm"}]}, "mark": {"type": "text", "fontSize": 10, "color": "#222", "align": "right", "baseline": "top"}, "encoding": {"text": {"field": "s"}}},
{"data": {"values": [{"t": 49.9, "v": -19.5, "s": "min"}]}, "mark": {"type": "text", "fontSize": 10, "color": "#222", "align": "right", "baseline": "bottom"}, "encoding": {"text": {"field": "s"}}},
{"data": {"values": [{"t": 4.1, "v": 145, "s": "F"}]}, "mark": {"type": "text", "fontSize": 28, "fontWeight": "bold", "color": "#000", "align": "left", "baseline": "alphabetic"}, "encoding": {"text": {"field": "s"}}},
{"data": {"values": [{"t": 49.6, "v": 153.2, "s": "Day5 after Benz"}]}, "mark": {"type": "text", "fontSize": 28, "color": "#111", "align": "right", "baseline": "alphabetic"}, "encoding": {"text": {"field": "s"}}}
]
}
],
"spacing": 3
}
],
"spacing": 9
}
],
"spacing": 48,
"center": true
}
